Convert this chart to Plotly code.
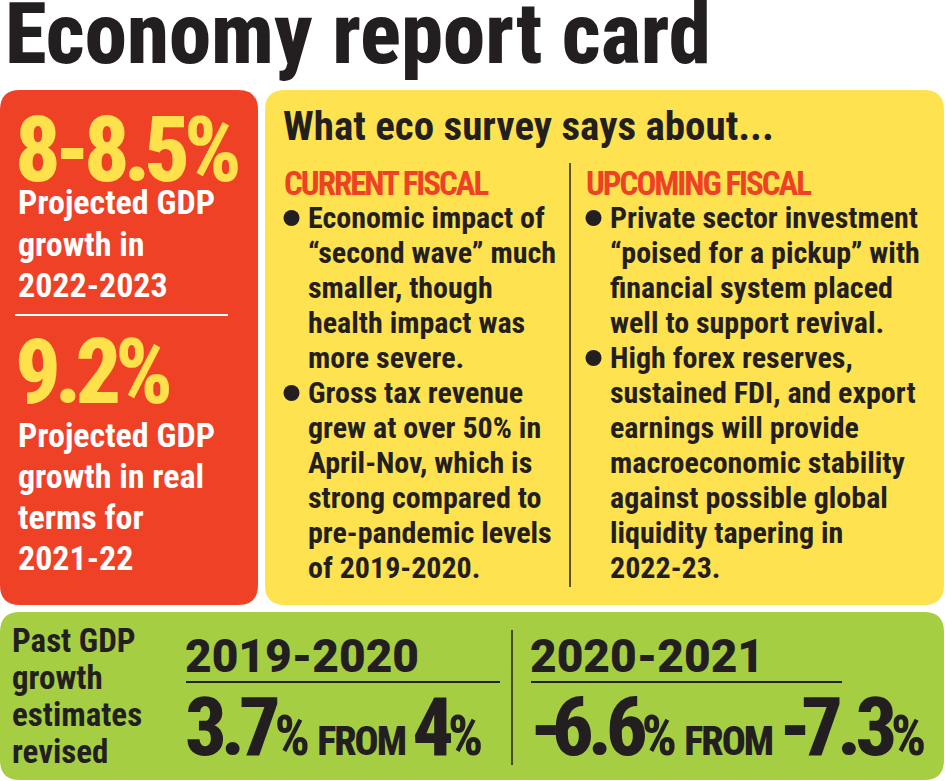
import plotly.graph_objects as go

# ---------------- data (text values of the infographic) ----------------
TITLE = "Economy report card"
HEADLINE_FIGURES = ["8-8.5%", "9.2%"]
HEADLINE_CAPTIONS = [
    ["Projected GDP", "growth in", "2022-2023"],
    ["Projected GDP", "growth in real", "terms for", "2021-22"],
]
SURVEY_HEADING = "What eco survey says about..."
COLUMN_HEADINGS = ["CURRENT FISCAL", "UPCOMING FISCAL"]
CURRENT_BULLETS = [
    ["Economic impact of", "“second wave” much", "smaller, though",
     "health impact was", "more severe."],
    ["Gross tax revenue", "grew at over 50% in", "April-Nov, which is",
     "strong compared to", "pre-pandemic levels", "of 2019-2020."],
]
UPCOMING_BULLETS = [
    ["Private sector investment", "“poised for a pickup” with",
     "financial system placed", "well to support revival."],
    ["High forex reserves,", "sustained FDI, and export",
     "earnings will provide", "macroeconomic stability",
     "against possible global", "liquidity tapering in", "2022-23."],
]
PAST_LABEL = ["Past GDP", "growth", "estimates", "revised"]
PAST_YEARS = ["2019-2020", "2020-2021"]
REVISED_ESTIMATES = [3.7, -6.6]
EARLIER_ESTIMATES = [4, -7.3]

# ---------------- styling ----------------
W, H = 945, 781
RED = "#EE4126"
YELLOW_BOX = "#FFE24F"
YELLOW_TXT = "#FFE14B"
GREEN = "#A6CE43"
INK = "#231F20"
NARROW = "Roboto Condensed, Open Sans Condensed, sans-serif"
WIDE = "Roboto, Liberation Sans, sans-serif"
K = 0.34  # baseline -> box-centre offset (em)

fig = go.Figure()
shapes = []
annotations = []


def rrect(x0, y0, x1, y1, r, color):
    p = (f"M{x0+r},{y0} L{x1-r},{y0} Q{x1},{y0} {x1},{y0+r} L{x1},{y1-r} "
         f"Q{x1},{y1} {x1-r},{y1} L{x0+r},{y1} Q{x0},{y1} {x0},{y1-r} "
         f"L{x0},{y0+r} Q{x0},{y0} {x0+r},{y0} Z")
    shapes.append(dict(type="path", path=p, xref="x", yref="y",
                       fillcolor=color, line=dict(width=0), layer="below"))


def line(x0, y0, x1, y1, color, w):
    shapes.append(dict(type="line", x0=x0, y0=y0, x1=x1, y1=y1, xref="x",
                       yref="y", line=dict(color=color, width=w)))


def dot(cx, cy, r, color):
    shapes.append(dict(type="circle", x0=cx - r, y0=cy - r, x1=cx + r,
                       y1=cy + r, xref="x", yref="y", fillcolor=color,
                       line=dict(width=0)))


def squeeze(s, px):
    return f"<span style='letter-spacing:{px}px'>{s}</span>"


def number(v, px):
    s = f"{v:g}"
    out = ""
    if s.startswith("-"):
        out += squeeze("-", px - 4)
        s = s[1:]
    return out + squeeze(s, px)


def text(x, baseline, s, size, color, family=NARROW, weight=700, k=K):
    annotations.append(dict(
        x=x, y=baseline - k * size, xref="x", yref="y", text=s,
        showarrow=False, xanchor="left", yanchor="middle", borderpad=0,
        font=dict(size=size, color=color, family=family, weight=weight)))


# boxes
rrect(0, 90, 258, 605, 20, RED)
rrect(265, 90, 944, 605, 20, YELLOW_BOX)
rrect(0, 612, 944, 780, 20, GREEN)

# title
text(4, 63, TITLE, 85, INK, weight=800)

# red panel
text(14, 181, squeeze(HEADLINE_FIGURES[0], -6), 90, YELLOW_TXT, weight=800)
for i, s in enumerate(HEADLINE_CAPTIONS[0]):
    text(17, 214 + i * 41.5, s, 34, "white")
line(15, 315, 228, 315, "white", 2)
text(14, 403, squeeze(HEADLINE_FIGURES[1], -6), 90, YELLOW_TXT, weight=800)
for i, s in enumerate(HEADLINE_CAPTIONS[1]):
    text(17, 447 + i * 41, s, 34, "white")

# yellow panel
text(282, 140, SURVEY_HEADING, 41, INK)
line(570, 163, 570, 587, INK, 1.5)
col_x = [283, 585]
for c, (heading, bullets) in enumerate(zip(COLUMN_HEADINGS, [CURRENT_BULLETS, UPCOMING_BULLETS])):
    text(col_x[c], 195, squeeze(heading, -2), 33, RED)
    row = 0
    for b in bullets:
        dot(col_x[c] + 8.5, 228 + row * 35 - 10, 8, INK)
        for s in b:
            text(col_x[c] + 24, 228 + row * 35, s, 30, INK)
            row += 1

# green panel
for i, s in enumerate(PAST_LABEL):
    text(11, 652 + i * 37, s, 33, INK)
line(512, 630, 512, 765, INK, 1.5)
yr_x = [184, 529]
ul_end = [500, 842]
for j in range(2):
    text(yr_x[j], 672, PAST_YEARS[j], 46, INK, family=WIDE, weight=900)
    line(yr_x[j] + 2, 682, ul_end[j], 682, INK, 2)
    big = (number(REVISED_ESTIMATES[j], -6)
           + "<span style='font-size:55px'>%</span>"
           + "<span style='font-size:40px;letter-spacing:-2px'> FROM </span>"
           + number(EARLIER_ESTIMATES[j], -6)
           + "<span style='font-size:55px'>%</span>")
    text(yr_x[j], 755, big, 82, INK, weight=800)

fig.update_layout(
    width=W, height=H, margin=dict(l=0, r=0, t=0, b=0),
    paper_bgcolor="white", plot_bgcolor="white",
    xaxis=dict(range=[0, W], visible=False, fixedrange=True),
    yaxis=dict(range=[H, 0], visible=False, fixedrange=True),
    shapes=shapes, annotations=annotations, showlegend=False,
)
fig.write_html("out.html", config={"displayModeBar": False},
               post_script="document.body.style.margin='0';document.body.style.overflow='hidden';")
